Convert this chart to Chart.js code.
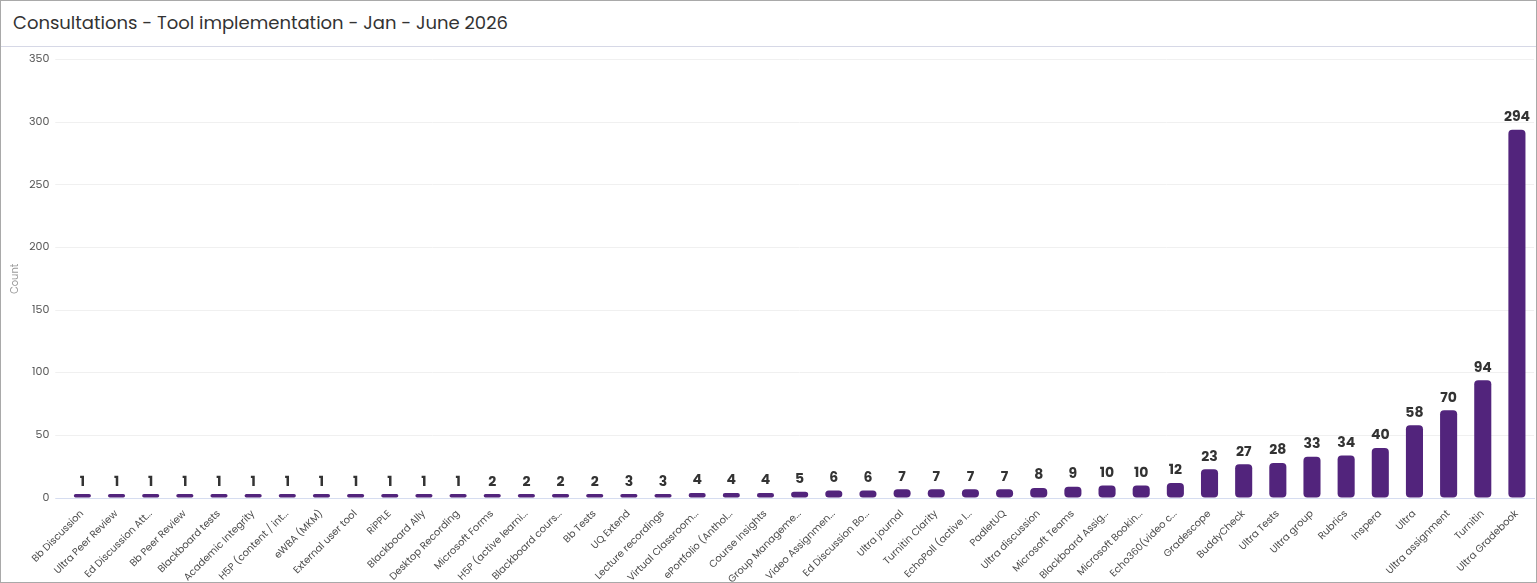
<!DOCTYPE html>
<html>
<head>
<meta charset="utf-8">
<script src="https://cdn.jsdelivr.net/npm/chart.js@4"></script>
<style>
  html, body { margin: 0; padding: 0; background: #fff; }
  .card {
    width: 1537px; height: 583px; box-sizing: border-box;
    border: 1px solid #a9a9a9; font-family: Poppins, Inter, "Open Sans", sans-serif;
  }
  .card h1 {
    margin: 0; height: 45px; line-height: 44px; padding-left: 12px;
    font-size: 18px; font-weight: 400; color: #333;
    border-bottom: 1px solid #d6d8e6;
  }
  .wrap { position: relative; height: 535px; }
</style>
</head>
<body>
<div class="card">
  <h1>Consultations - Tool implementation - Jan - June 2026</h1>
  <div class="wrap"><canvas id="chart"></canvas></div>
</div>
<script>
// Categories (as shown, truncated on the axis)
const tools = [
    'Bb Discussion', 'Ultra Peer Review', 'Ed Discussion Att...', 'Bb Peer Review',
    'Blackboard tests', 'Academic Integrity', 'H5P (content / int...', 'eWBA (MKM)',
    'External user tool', 'RiPPLE', 'Blackboard Ally', 'Desktop Recording',
    'Microsoft Forms', 'H5P (active learni...', 'Blackboard cours...', 'Bb Tests',
    'UQ Extend', 'Lecture recordings', 'Virtual Classroom...', 'ePortfolio (Anthol...',
    'Course Insights', 'Group Manageme...', 'Video Assignmen...', 'Ed Discussion Bo...',
    'Ultra journal', 'Turnitin Clarity', 'EchoPoll (active l...', 'PadletUQ',
    'Ultra discussion', 'Microsoft Teams', 'Blackboard Assig...', 'Microsoft Bookin...',
    'Echo360(video c...', 'Gradescope', 'BuddyCheck', 'Ultra Tests',
    'Ultra group', 'Rubrics', 'Inspera', 'Ultra',
    'Ultra assignment', 'Turnitin', 'Ultra Gradebook'
];

// Consultation counts
const counts = [
    1, 1, 1, 1, 1, 1, 1, 1, 1, 1, 1, 1,
    2, 2, 2, 2, 3, 3, 4, 4, 4, 5, 6, 6,
    7, 7, 7, 7, 8, 9, 10, 10, 12, 23, 27, 28,
    33, 34, 40, 58, 70, 94, 294
];

const yTicks = [0, 50, 100, 150, 200, 250, 300, 350];

const fontFamily = 'Poppins, Inter, "Open Sans", sans-serif';

// Draw the value above each bar
const valueLabels = {
    id: 'valueLabels',
    afterDatasetsDraw(chart) {
        const ctx = chart.ctx;
        const meta = chart.getDatasetMeta(0);
        ctx.save();
        ctx.font = 'bold 14px ' + fontFamily;
        ctx.fillStyle = '#333';
        ctx.textAlign = 'center';
        ctx.textBaseline = 'bottom';
        meta.data.forEach((bar, i) => {
            ctx.fillText(counts[i], bar.x, bar.y - 5);
        });
        ctx.restore();
    }
};

new Chart(document.getElementById('chart'), {
    type: 'bar',
    data: {
        labels: tools,
        datasets: [{
            data: counts,
            backgroundColor: '#52247c',
            borderRadius: 4,
            borderSkipped: false,
            minBarLength: 4,
            categoryPercentage: 1,
            barPercentage: 0.5
        }]
    },
    options: {
        responsive: true,
        maintainAspectRatio: false,
        animation: false,
        layout: { padding: { top: 6, right: 2, left: 6, bottom: 0 } },
        plugins: {
            legend: { display: false },
            tooltip: { enabled: false }
        },
        scales: {
            x: {
                grid: { display: false },
                border: { color: '#d6ddf0' },
                afterFit(axis) {
                    axis.height = 84;
                },
                ticks: {
                    autoSkip: false,
                    maxRotation: 45,
                    minRotation: 45,
                    color: '#4d4d4d',
                    padding: 2,
                    font: { size: 10, family: fontFamily }
                }
            },
            y: {
                min: 0,
                max: 350,
                afterBuildTicks(axis) {
                    axis.ticks = yTicks.map(v => ({ value: v }));
                },
                grid: {
                    color: '#f0f0f0',
                    tickLength: 10,
                    tickColor: ctx => ctx.tick && ctx.tick.value === 0 ? '#d6ddf0' : '#f0f0f0'
                },
                border: { display: false },
                ticks: {
                    color: '#555',
                    padding: 6,
                    font: { size: 11, family: fontFamily }
                },
                title: {
                    display: true,
                    text: 'Count',
                    color: '#999',
                    padding: 2,
                    font: { size: 10, family: fontFamily }
                }
            }
        }
    },
    plugins: [valueLabels]
});
</script>
</body>
</html>
